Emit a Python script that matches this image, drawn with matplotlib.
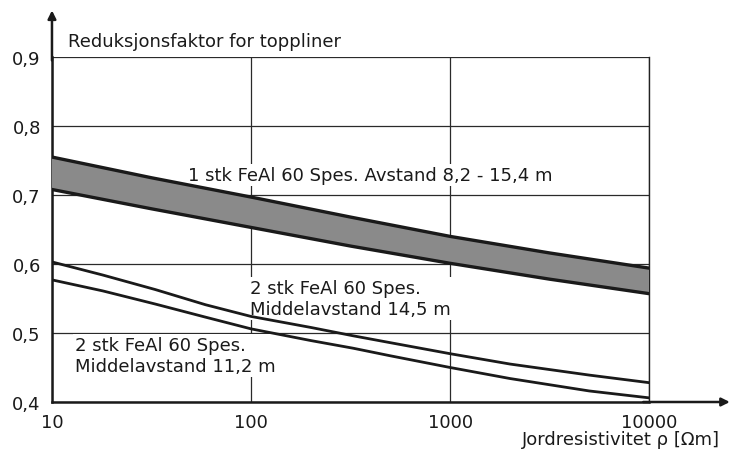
import numpy as np
import matplotlib.pyplot as plt
from matplotlib.ticker import FixedLocator, NullLocator

plt.rcParams['font.family'] = ['DejaVu Sans']

# Jordresistivitet (Ohm m) where the band was read
rho_band = [10, 31.6, 100, 316, 1000, 3162, 10000]
# 1 stk FeAl 60 Spes., avstand 8,2 - 15,4 m (band)
band_upper = [0.755, 0.725, 0.697, 0.668, 0.640, 0.616, 0.594]
band_lower = [0.708, 0.680, 0.653, 0.626, 0.601, 0.578, 0.557]

# points where the two lower curves were read
rho = [10, 18, 33, 59, 100, 200, 325, 500, 1000, 2000, 5000, 10000]
# 2 stk FeAl 60 Spes., middelavstand 14,5 m and 11,2 m
curve_145 = [0.603, 0.584, 0.563, 0.541, 0.524, 0.508, 0.496, 0.486, 0.470, 0.455, 0.439, 0.428]
curve_112 = [0.577, 0.561, 0.542, 0.523, 0.506, 0.489, 0.478, 0.467, 0.450, 0.434, 0.416, 0.406]

yticks = [0.4, 0.5, 0.6, 0.7, 0.8, 0.9]
ytick_labels = ['0,4', '0,5', '0,6', '0,7', '0,8', '0,9']
xticks = [10, 100, 1000, 10000]
xtick_labels = ['10', '100', '1000', '10000']

fs = 13
ink = '#1a1a1a'

fig = plt.figure(figsize=(7.31, 4.52), dpi=100)
ax = fig.add_axes([0.0711, 0.1084, 0.8170, 0.7633])
ax.set_xscale('log')
ax.set_xlim(10, 10000)
ax.set_ylim(0.4, 0.9)

# grid
ax.xaxis.set_major_locator(FixedLocator(xticks))
ax.xaxis.set_minor_locator(NullLocator())
ax.set_xticklabels(xtick_labels)
ax.set_yticks(yticks)
ax.set_yticklabels(ytick_labels)
ax.grid(True, color='#2a2a2a', linewidth=0.9)
ax.tick_params(length=0, labelsize=fs, colors=ink)
ax.tick_params(axis='x', pad=8)
ax.tick_params(axis='y', pad=8)

for s in ['top', 'right']:
    ax.spines[s].set_linewidth(1.0)
    ax.spines[s].set_color('#222222')
for s in ['left', 'bottom']:
    ax.spines[s].set_linewidth(1.8)
    ax.spines[s].set_color(ink)
ax.spines['top'].set_visible(False)

# band
ax.fill_between(rho_band, band_lower, band_upper, facecolor='#8a8a8a',
                edgecolor='none', zorder=3)
ax.plot(rho_band, band_upper, color=ink, lw=2.4, zorder=4)
ax.plot(rho_band, band_lower, color=ink, lw=2.4, zorder=4)

ax.plot(rho, curve_145, color=ink, lw=2.0, zorder=4)
ax.plot(rho, curve_112, color=ink, lw=2.0, zorder=4)

# labels sit above the grid but below the curves
box = dict(facecolor='white', edgecolor='none', pad=1.5)
ax.text(0.228, 0.658, '1 stk FeAl 60 Spes. Avstand 8,2 - 15,4 m',
        transform=ax.transAxes, fontsize=fs, va='center', bbox=box,
        zorder=2.8, color=ink)
ax.text(0.332, 0.301, '2 stk FeAl 60 Spes.\nMiddelavstand 14,5 m',
        transform=ax.transAxes, fontsize=fs, va='center', linespacing=1.2,
        bbox=box, zorder=2.8, color=ink)
ax.text(0.038, 0.135, '2 stk FeAl 60 Spes.\nMiddelavstand 11,2 m',
        transform=ax.transAxes, fontsize=fs, va='center', linespacing=1.2,
        bbox=box, zorder=2.8, color=ink)

ax.text(0.027, 1.046, 'Reduksjonsfaktor for toppliner', transform=ax.transAxes,
        fontsize=fs, va='center', clip_on=False, color=ink)
fig.text(0.985, 0.0265, 'Jordresistivitet ρ [Ωm]', ha='right', va='center',
         fontsize=fs, color=ink)

# axis arrows
ax.annotate('', xy=(0, 1.135), xytext=(0, 0.99), xycoords='axes fraction',
            arrowprops=dict(arrowstyle='-|>', color=ink, lw=1.8,
                            mutation_scale=12, shrinkA=0, shrinkB=0))
ax.annotate('', xy=(1.135, 0), xytext=(0.99, 0), xycoords='axes fraction',
            arrowprops=dict(arrowstyle='-|>', color=ink, lw=1.8,
                            mutation_scale=12, shrinkA=0, shrinkB=0))

fig.savefig('out.png', dpi=100)
